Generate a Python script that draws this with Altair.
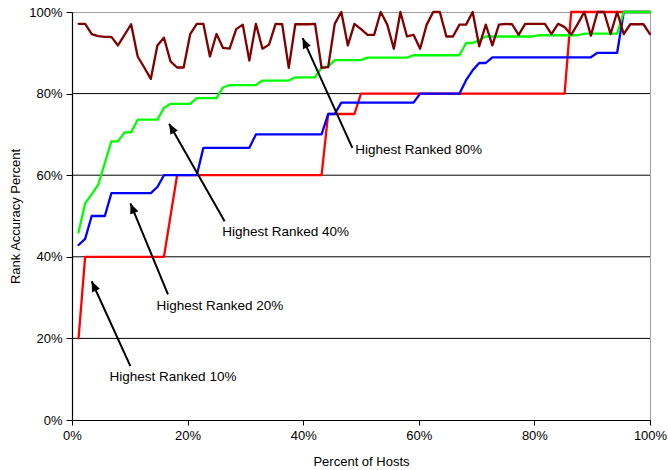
import math
import altair as alt
import pandas as pd

# Hosts ordered by rank; x is the cumulative share of hosts (88 hosts).
hosts = list(range(1, 89))
host_pct = [100.0 * h / 88 for h in hosts]

# Rank accuracy (%) for each "highest ranked" subset
top10 = [
    20, 40, 40, 40, 40, 40, 40, 40, 40, 40, 40, 40, 40, 40, 50, 60, 60, 60, 60, 60, 60, 60,
    60, 60, 60, 60, 60, 60, 60, 60, 60, 60, 60, 60, 60, 60, 60, 60, 75, 75, 75, 75, 75, 80,
    80, 80, 80, 80, 80, 80, 80, 80, 80, 80, 80, 80, 80, 80, 80, 80, 80, 80, 80, 80, 80, 80,
    80, 80, 80, 80, 80, 80, 80, 80, 80, 100, 100, 100, 100, 100, 100, 100, 100, 100, 100, 100, 100, 100,
]
top20 = [
    42.9, 44.4, 50.0, 50.0, 50.0, 55.6, 55.6, 55.6, 55.6, 55.6, 55.6, 55.6, 57.1, 60.0, 60.0, 60.0, 60.0, 60.0, 60.0, 66.7, 66.7, 66.7,
    66.7, 66.7, 66.7, 66.7, 66.7, 70.0, 70.0, 70.0, 70.0, 70.0, 70.0, 70.0, 70.0, 70.0, 70.0, 70.0, 75.0, 75.0, 77.8, 77.8, 77.8, 77.8,
    77.8, 77.8, 77.8, 77.8, 77.8, 77.8, 77.8, 77.8, 80.0, 80.0, 80.0, 80.0, 80.0, 80.0, 80.0, 83.3, 85.7, 87.5, 87.5, 88.9, 88.9, 88.9,
    88.9, 88.9, 88.9, 88.9, 88.9, 88.9, 88.9, 88.9, 88.9, 88.9, 88.9, 88.9, 88.9, 90.0, 90.0, 90.0, 90.0, 100, 100, 100, 100, 100,
]
top40 = [
    46.0, 53.1, 55.3, 57.7, 63.0, 68.3, 68.3, 70.5, 70.5, 73.6, 73.6, 73.6, 73.6, 76.5, 77.5, 77.5, 77.5, 77.5, 78.9, 78.9, 78.9, 78.9,
    81.5, 82.1, 82.1, 82.1, 82.1, 82.1, 83.2, 83.2, 83.2, 83.2, 83.2, 84.0, 84.0, 84.0, 84.0, 86.4, 86.6, 88.2, 88.2, 88.2, 88.2, 88.2,
    88.8, 88.8, 88.8, 88.8, 88.8, 88.8, 88.8, 89.4, 89.4, 89.4, 89.4, 89.4, 89.4, 89.4, 89.4, 92.4, 92.4, 93.1, 94.0, 94.0, 94.0, 94.0,
    94.0, 94.0, 94.0, 94.0, 94.3, 94.3, 94.3, 94.3, 94.3, 94.3, 94.3, 94.7, 94.7, 94.7, 94.7, 94.7, 94.7, 100, 100, 100, 100, 100,
]
top80 = [
    97.1, 97.1, 94.6, 94.1, 93.9, 93.9, 91.8, 94.4, 97.0, 89.1, 86.4, 83.6, 91.8, 93.7, 87.9, 86.4, 86.4, 94.6, 97.1, 97.1, 89.1, 94.6,
    91.2, 91.0, 95.8, 96.9, 88.1, 97.1, 91.0, 92.0, 97.1, 97.0, 86.3, 97.0, 97.0, 97.0, 97.1, 86.3, 86.5, 97.1, 100, 91.8, 97.1, 95.8,
    94.4, 94.4, 100, 96.9, 91.0, 100, 94.0, 94.4, 91.0, 96.9, 100, 100, 94.0, 94.0, 96.9, 96.9, 100, 91.6, 96.9, 91.8, 96.9, 97.1,
    97.0, 94.4, 97.1, 97.1, 97.1, 97.1, 94.6, 97.1, 96.3, 94.4, 97.1, 100, 94.2, 100, 100, 94.6, 100, 94.6, 97.0, 97.0, 97.0, 94.6,
]

series_names = ["Highest Ranked 10%", "Highest Ranked 20%", "Highest Ranked 40%", "Highest Ranked 80%"]
series_values = [top10, top20, top40, top80]
series_colors = ["#FF0000", "#0000FF", "#00FF00", "#800000"]

# Callout labels: text anchor (left, middle) and arrow tail -> tip, in data units
label_x = [6.5, 14.6, 26.0, 49.0]
label_y = [10.6, 27.9, 46.1, 66.1]
arrow_x1 = [10.1, 16.6, 26.4, 48.5]
arrow_y1 = [13.2, 30.8, 48.7, 66.7]
arrow_x2 = [3.4, 10.1, 16.8, 39.9]
arrow_y2 = [34.0, 53.1, 72.6, 93.6]

grid_values = [20, 40, 60, 80]

W, H = 578, 408
FONT = "Liberation Sans"

xscale = alt.Scale(domain=[0, 100], nice=False, zero=False)
yscale = alt.Scale(domain=[0, 100], nice=False, zero=False)

x_axis = alt.Axis(
    values=[0, 20, 40, 60, 80, 100], labelExpr="datum.value + '%'", title="Percent of Hosts",
    grid=False, tickSize=5, tickColor="#000000", domainColor="#000000", domainWidth=1.2,
    labelFont=FONT, labelFontSize=13, labelColor="#000000", labelPadding=4, labelFlush=False,
    labelOverlap=False,
    titleFont=FONT, titleFontSize=13, titleFontWeight="normal", titleColor="#000000",
    titleY=41, titleBaseline="middle",
)
y_axis = alt.Axis(
    values=[0, 20, 40, 60, 80, 100], labelExpr="datum.value + '%'", title="Rank Accuracy Percent",
    grid=False, tickSize=6, tickColor="#000000", domainColor="#000000", domainWidth=1.2,
    labelFont=FONT, labelFontSize=13, labelColor="#000000", labelPadding=4, labelFlush=False,
    labelOverlap=False,
    titleFont=FONT, titleFontSize=13, titleFontWeight="normal", titleColor="#000000",
    titleX=-57, titleBaseline="middle",
)


def X(field):
    return alt.X(field, scale=xscale, axis=x_axis)


def Y(field):
    return alt.Y(field, scale=yscale, axis=y_axis)


grid = alt.Chart(pd.DataFrame({"g": grid_values})).mark_rule(
    color="#000000", strokeWidth=1
).encode(y=Y("g:Q"))

line_layers = []
for name, vals, color in zip(series_names, series_values, series_colors):
    d = pd.DataFrame({"hosts": host_pct, "acc": vals, "series": name})
    line_layers.append(
        alt.Chart(d).mark_line(color=color, strokeWidth=2.3, strokeJoin="round", strokeCap="round").encode(
            x=X("hosts:Q"), y=Y("acc:Q"),
        )
    )

# Arrow direction in screen space -> rotation of the arrowhead symbol
px_x, px_y = W / 100.0, H / 100.0
angles = []
for xa, ya, xb, yb in zip(arrow_x1, arrow_y1, arrow_x2, arrow_y2):
    dx = (xb - xa) * px_x
    dy = -(yb - ya) * px_y
    angles.append(math.degrees(math.atan2(dx, -dy)) % 360)

ann = pd.DataFrame({
    "label": series_names, "lx": label_x, "ly": label_y,
    "x1": arrow_x1, "y1": arrow_y1, "x2": arrow_x2, "y2": arrow_y2, "ang": angles,
})

shafts = alt.Chart(ann).mark_rule(color="#000000", strokeWidth=2).encode(
    x=X("x1:Q"), y=Y("y1:Q"), x2="x2:Q", y2="y2:Q",
)
heads = alt.Chart(ann).mark_point(
    shape="M0,0L0.42,1L-0.42,1Z", filled=True, color="#000000", opacity=1, size=420, strokeWidth=0
).encode(
    x=X("x2:Q"), y=Y("y2:Q"), angle=alt.Angle("ang:Q", scale=None),
)
labels = alt.Chart(ann).mark_text(
    align="left", baseline="middle", font=FONT, fontSize=13.5, color="#000000"
).encode(
    x=X("lx:Q"), y=Y("ly:Q"), text="label:N",
)

chart = alt.layer(grid, *line_layers, shafts, heads, labels).properties(
    width=W, height=H,
    padding={"left": 72, "top": 12, "right": 18, "bottom": 50},
    autosize=alt.AutoSizeParams(type="none"),
    background="#FFFFFF",
).configure_view(stroke="#A0A0A0", strokeWidth=1)

chart.save("out.html", embed_options={"renderer": "svg", "actions": False})
